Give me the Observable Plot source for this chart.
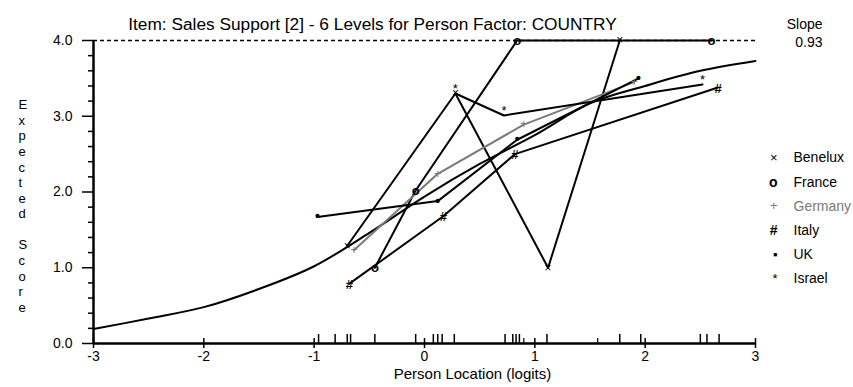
<!DOCTYPE html>
<html><head><meta charset="utf-8">
<script src="https://cdn.jsdelivr.net/npm/d3@7"></script>
<script src="https://cdn.jsdelivr.net/npm/@observablehq/plot@0.6"></script>
<style>
body{margin:0;background:#fff;}
#chart svg{display:block;}
</style></head><body><div id="chart"></div>
<script>
const titleText = "Item: Sales Support [2] - 6 Levels for Person Factor: COUNTRY";
const slopeLabel = "Slope";
const slopeValue = "0.93";
const xLabel = "Person Location (logits)";
const yLabel = "Expected Score";
const xTicks = [-3, -2, -1, 0, 1, 2, 3];
const yTicks = [0, 1, 2, 3, 4];
const yMinorTicks = [0.2, 0.4, 0.6, 0.8, 1.2, 1.4, 1.6, 1.8, 2.2, 2.4, 2.6, 2.8, 3.2, 3.4, 3.6, 3.8];

const countries = ["Benelux", "France", "Germany", "Italy", "UK", "Israel"];
const legendSymbols = ["×", "o", "+", "#", "▪", "*"];
const plotSymbols = ["×", "o", "+", "#", "•", "*"];

const beneluxX = [-0.70, 0.28, 1.12, 1.77];
const beneluxY = [1.29, 3.30, 1.00, 4.00];
const franceX = [-0.45, -0.08, 0.84, 2.60];
const franceY = [1.00, 2.02, 4.00, 4.00];
const germanyX = [-0.64, 0.12, 0.90, 1.90];
const germanyY = [1.23, 2.24, 2.89, 3.45];
const italyX = [-0.68, 0.17, 0.82, 2.66];
const italyY = [0.79, 1.68, 2.50, 3.38];
const ukX = [-0.97, 0.12, 0.84, 1.94];
const ukY = [1.67, 1.88, 2.69, 3.50];
const israelX = [0.28, 0.72, 2.52];
const israelY = [3.30, 3.01, 3.42];

const iccX = [-3, -2.5, -2, -1.5, -1, -0.5, 0, 0.5, 1, 1.5, 2, 2.5, 3];
const iccY = [0.19, 0.33, 0.48, 0.72, 1.02, 1.46, 1.94, 2.37, 2.75, 3.17, 3.40, 3.60, 3.73];

const rugTall = [-0.96, -0.81, -0.70, -0.67, -0.45, -0.08, 0.08, 0.12, 0.16, 0.27, 0.73, 0.80, 0.83, 0.86, 1.11, 1.77, 1.96, 2.50, 2.56, 2.67];
const rugShort = [0.90, 1.57];

const seriesX = [beneluxX, franceX, germanyX, italyX, ukX, israelX];
const seriesY = [beneluxY, franceY, germanyY, italyY, ukY, israelY];
const rows = countries.flatMap((c, i) => seriesX[i].map((x, j) => ({country: c, x, y: seriesY[i][j]})));
const icc = iccX.map((x, i) => ({x, y: iccY[i]}));

const font = "'Liberation Sans', Arial, sans-serif";
const colorOf = c => c === "Germany" ? "#7a7a7a" : "#000";

const markerStyle = {
  Benelux: {fontSize: 12, fontWeight: "normal", dy: 0},
  France: {fontSize: 13, fontWeight: "bold", dy: 0},
  Germany: {fontSize: 12, fontWeight: "normal", dy: 0},
  Italy: {fontSize: 13, fontWeight: "bold", dy: 1},
  UK: {fontSize: 14, fontWeight: "bold", dy: 0},
  Israel: {fontSize: 13, fontWeight: "normal", dy: -5}
};

const legendTop = 112, legendStep = 24.2;

const marks = [
  Plot.ruleY([4], {stroke: "#000", strokeWidth: 1.3, strokeDasharray: "4,3"}),
  Plot.line(icc, {x: "x", y: "y", curve: "catmull-rom", stroke: "#000", strokeWidth: 2}),
  ...countries.map(c => Plot.line(rows.filter(d => d.country === c), {x: "x", y: "y", stroke: colorOf(c), strokeWidth: 2})),
  ...countries.map((c, i) => Plot.text(rows.filter(d => d.country === c), {
    x: "x", y: "y", text: () => plotSymbols[i], fill: colorOf(c),
    fontSize: markerStyle[c].fontSize, fontWeight: markerStyle[c].fontWeight, dy: markerStyle[c].dy, fontFamily: font
  })),
  // axes
  Plot.axisY(yTicks, {tickSize: 11, tickPadding: 10, tickFormat: d3.format(".1f"), label: null, strokeWidth: 1.5, fontSize: 14, fontFamily: font}),
  Plot.axisY(yMinorTicks, {tickSize: 5, tickFormat: () => "", label: null, strokeWidth: 1.5}),
  Plot.axisX(xTicks, {tickSize: 5, tickPadding: 3, tickFormat: d => String(d), label: null, strokeWidth: 1.5, fontSize: 14, fontFamily: font}),
  Plot.ruleX(xTicks, {insetTop: 298, strokeWidth: 1.5}),
  Plot.ruleX(rugTall, {insetTop: 294, strokeWidth: 1.5}),
  Plot.ruleX(rugShort, {insetTop: 298, strokeWidth: 1.2}),
  Plot.ruleX([-3], {strokeWidth: 2.5}),
  Plot.ruleY([0], {strokeWidth: 2.5}),
  // texts
  Plot.text([titleText], {text: d => d, frameAnchor: "top", dx: -52, dy: -23, fontSize: 17.3, fontFamily: font}),
  Plot.text([slopeLabel], {text: d => d, frameAnchor: "top-right", textAnchor: "end", dx: 67, dy: -21, fontSize: 14, fontFamily: font}),
  Plot.text([slopeValue], {text: d => d, frameAnchor: "top-right", textAnchor: "end", dx: 67, dy: -3, fontSize: 14, fontFamily: font}),
  Plot.text([xLabel], {text: d => d, frameAnchor: "bottom", dx: 48, dy: 35, fontSize: 15, fontFamily: font}),
  Plot.text([yLabel.split("").join("\n")], {text: d => d, frameAnchor: "left", dx: -75, dy: 13.5, fontSize: 13, lineHeight: 1.2, fontFamily: font}),
  ...countries.map((c, i) => Plot.text([legendSymbols[i]], {text: d => d, frameAnchor: "top-right", dx: 22, dy: legendTop + i * legendStep, fill: colorOf(c), fontSize: i === 1 || i === 3 ? 14 : 13, fontWeight: i === 1 || i === 3 ? "bold" : "normal", fontFamily: font})),
  ...countries.map((c, i) => Plot.text([c], {text: d => d, frameAnchor: "top-right", textAnchor: "start", dx: 38, dy: legendTop + i * legendStep, fill: colorOf(c), fontSize: 14, fontFamily: font}))
];

const chart = Plot.plot({
  width: 853, height: 387,
  marginLeft: 93, marginRight: 98, marginTop: 40, marginBottom: 44,
  x: {domain: [-3, 3]},
  y: {domain: [0, 4]},
  style: {fontFamily: font, fontSize: "13px", background: "#fff", color: "#000"},
  marks
});
document.getElementById("chart").appendChild(chart);
</script></body></html>
